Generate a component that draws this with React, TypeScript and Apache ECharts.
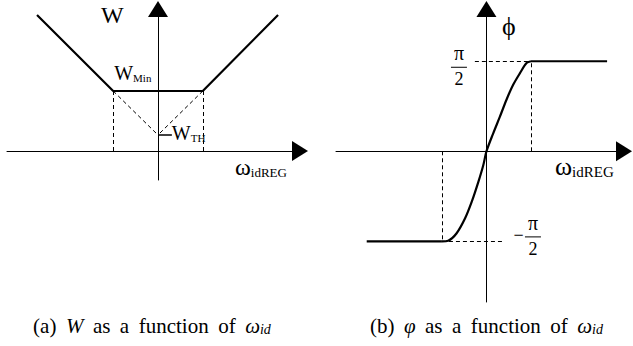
import React, { useEffect, useRef } from 'react';
import * as echarts from 'echarts';

const SERIF = "'Liberation Serif', 'Times New Roman', serif";

// ---------- Panel (a): W as a function of omega ----------
const wOmega = [-2.7, -1, 1, 2.68];
const wValues = [6.8, 3.0, 3.0, 6.8];
const wKnee = 1;
const wMin = 3.0;
const wTh = 0.8;
const wThTickEnd = 0.31;
const wAxisX = [-3.37, 3.17];
const wAxisY = [-1.45, 7.1];

// ---------- Panel (b): phi as a function of omega ----------
const phiMax = 1.5708;
const phiKnee = 1;
const phiLowOmega = [-2.69, -1];
const phiLowValues = [-1.5708, -1.5708];
const phiHighOmega = [1, 2.71];
const phiHighValues = [1.5708, 1.5708];
const phiCurveOmega = [-1, -0.86, -0.67, -0.48, -0.33, -0.18, -0.07, 0, 0.15, 0.3, 0.45, 0.6, 0.75, 0.9, 1];
const phiCurveValues = [-1.5708, -1.56, -1.43, -1.17, -0.88, -0.53, -0.24, 0, 0.31, 0.6, 0.9, 1.16, 1.36, 1.54, 1.5708];
const phiDashUpperStart = -0.26;
const phiDashLowerEnd = 0.35;
const phiAxisX = [-3.38, 3.09];
const phiAxisY = [-2.63, 2.483];

// ---------- Texts ----------
const labelW = 'W';
const subMin = 'Min';
const subTH = 'TH';
const omegaSym = 'ω';
const subIdReg = 'idREG';
const phiSym = 'ϕ';
const piSym = 'π';
const twoSym = '2';
const minusSym = '−';
const SP = 9.5;
const captionA = [
  { t: '(a)' },
  { t: ' ', width: SP },
  { t: 'W', italic: true },
  { t: ' ', width: SP },
  { t: 'as' },
  { t: ' ', width: SP },
  { t: 'a' },
  { t: ' ', width: SP },
  { t: 'function' },
  { t: ' ', width: SP },
  { t: 'of' },
  { t: ' ', width: SP },
  { t: 'ω', italic: true },
  { t: 'id', italic: true, sub: true, size: 14, drop: 3 },
];
const captionB = [
  { t: '(b)' },
  { t: ' ', width: SP },
  { t: 'φ', italic: true },
  { t: ' ', width: SP },
  { t: 'as' },
  { t: ' ', width: SP },
  { t: 'a' },
  { t: ' ', width: SP },
  { t: 'function' },
  { t: ' ', width: SP },
  { t: 'of' },
  { t: ' ', width: SP },
  { t: 'ω', italic: true },
  { t: 'id', italic: true, sub: true, size: 14, drop: 3 },
];

const C = 0.34; // central baseline offset (em)

type Tok = { t: string; italic?: boolean; sub?: boolean; size?: number; drop?: number; width?: number };

function richText(x: number, baseline: number, F: number, toks: Tok[], align = 'left') {
  const rich: any = {};
  toks.forEach((tk, i) => {
    const fs = tk.size ?? F;
    const st: any = {
      fontSize: fs,
      fontFamily: SERIF,
      fontStyle: tk.italic ? 'italic' : 'normal',
      fill: '#000',
    };
    if (tk.width != null) st.width = tk.width;
    if (tk.sub) {
      st.lineHeight = F - 2 * C * (F - fs) - 2 * (tk.drop ?? 0);
      st.verticalAlign = 'bottom';
    } else {
      st.lineHeight = F;
      st.verticalAlign = 'middle';
    }
    rich['t' + i] = st;
  });
  const text = toks.map((tk, i) => `{t${i}|${tk.t}}`).join('');
  return {
    type: 'text',
    x,
    y: baseline - C * F,
    silent: true,
    style: {
      text,
      rich,
      fontSize: F,
      fontFamily: SERIF,
      fill: '#000',
      align,
      textAlign: align,
      verticalAlign: 'middle',
      textVerticalAlign: 'middle',
    },
  };
}

function hLine(x1: number, x2: number, y: number, w = 1) {
  return {
    type: 'line',
    silent: true,
    shape: { x1, y1: y, x2, y2: y },
    style: { stroke: '#000', lineWidth: w },
  };
}

function axis(gridIndex: number, range: number[]) {
  return {
    type: 'value',
    gridIndex,
    min: range[0],
    max: range[1],
    axisLine: {
      show: true,
      onZero: true,
      symbol: ['none', 'triangle'],
      symbolSize: [20, 16],
      lineStyle: { color: '#000', width: 1 },
    },
    axisTick: { show: false },
    axisLabel: { show: false },
    splitLine: { show: false },
  };
}

const dashStyle = { type: [4, 3], color: '#000', width: 1 };
const zip = (xs: number[], ys: number[]) => xs.map((x, i) => [x, ys[i]]);
const mainLine = { color: '#000', width: 2.2 };

const option: any = {
  animation: false,
  backgroundColor: '#fff',
  grid: [
    { left: 7, top: 9, width: 293, height: 171 },
    { left: 336, top: 9, width: 288, height: 293 },
  ],
  xAxis: [axis(0, wAxisX), axis(1, phiAxisX)],
  yAxis: [axis(0, wAxisY), axis(1, phiAxisY)],
  series: [
    {
      type: 'line',
      xAxisIndex: 0,
      yAxisIndex: 0,
      data: zip(wOmega, wValues),
      symbol: 'none',
      silent: true,
      lineStyle: mainLine,
      markLine: {
        silent: true,
        symbol: ['none', 'none'],
        label: { show: false },
        lineStyle: dashStyle,
        emphasis: { disabled: true },
        data: [
          [{ coord: [-wKnee, 0] }, { coord: [-wKnee, wMin] }],
          [{ coord: [wKnee, 0] }, { coord: [wKnee, wMin] }],
          [{ coord: [-wKnee, wMin] }, { coord: [0, wTh] }],
          [{ coord: [wKnee, wMin] }, { coord: [0, wTh] }],
        ],
      },
    },
    {
      type: 'line',
      xAxisIndex: 0,
      yAxisIndex: 0,
      data: [[0, wTh], [wThTickEnd, wTh]],
      symbol: 'none',
      silent: true,
      lineStyle: { color: '#000', width: 1.5 },
    },
    {
      type: 'line',
      xAxisIndex: 1,
      yAxisIndex: 1,
      data: zip(phiLowOmega, phiLowValues),
      symbol: 'none',
      silent: true,
      lineStyle: mainLine,
    },
    {
      type: 'line',
      xAxisIndex: 1,
      yAxisIndex: 1,
      data: zip(phiHighOmega, phiHighValues),
      symbol: 'none',
      silent: true,
      lineStyle: mainLine,
    },
    {
      type: 'line',
      xAxisIndex: 1,
      yAxisIndex: 1,
      data: zip(phiCurveOmega, phiCurveValues),
      symbol: 'none',
      smooth: 0.3,
      silent: true,
      lineStyle: mainLine,
      markLine: {
        silent: true,
        symbol: ['none', 'none'],
        label: { show: false },
        lineStyle: dashStyle,
        emphasis: { disabled: true },
        data: [
          [{ coord: [phiKnee, 0] }, { coord: [phiKnee, phiMax] }],
          [{ coord: [phiDashUpperStart, phiMax] }, { coord: [phiKnee, phiMax] }],
          [{ coord: [-phiKnee, 0] }, { coord: [-phiKnee, -phiMax] }],
          [{ coord: [-phiKnee, -phiMax] }, { coord: [phiDashLowerEnd, -phiMax] }],
        ],
      },
    },
  ],
};

function fraction(cx: number, lineY: number, out: any[]) {
  out.push(hLine(cx - 8, cx + 8, lineY, 1));
  out.push(richText(cx, lineY - 7.5, 20, [{ t: piSym }], 'center'));
  out.push(richText(cx, lineY + 18, 18, [{ t: twoSym }], 'center'));
}

export default function App() {
  const ref = useRef<HTMLDivElement>(null);
  useEffect(() => {
    document.body.style.margin = '0';
    const chart = echarts.init(ref.current as HTMLDivElement, null, { renderer: 'svg', width: 633, height: 346 });
    chart.setOption(option);
    const pA = (x: number, y: number) => chart.convertToPixel({ gridIndex: 0 } as any, [x, y]) as number[];
    const pB = (x: number, y: number) => chart.convertToPixel({ gridIndex: 1 } as any, [x, y]) as number[];
    const g: any[] = [];

    // Panel (a) labels
    const aTop = pA(0, wAxisY[1]);
    g.push(richText(aTop[0] - 57, aTop[1] + 14.3, 24, [{ t: labelW }]));
    const aKnee = pA(-wKnee, wMin);
    g.push(richText(aKnee[0] + 1, aKnee[1] - 11, 20, [{ t: labelW }, { t: subMin, sub: true, size: 11 }]));
    const aTh = pA(wThTickEnd, wTh);
    g.push(richText(aTh[0], aTh[1] + 5, 20, [{ t: labelW }, { t: subTH, sub: true, size: 11 }]));
    const aEnd = pA(wAxisX[1], 0);
    g.push(richText(aEnd[0] - 65, aEnd[1] + 24, 24, [{ t: omegaSym }, { t: subIdReg, sub: true, size: 13, drop: 1 }]));

    // Panel (b) labels
    const bTop = pB(0, phiAxisY[1]);
    g.push(richText(bTop[0] + 15.5, bTop[1] + 26, 26, [{ t: phiSym }]));
    const bEnd = pB(phiAxisX[1], 0);
    g.push(richText(bEnd[0] - 69, bEnd[1] + 24.5, 26, [{ t: omegaSym }, { t: subIdReg, sub: true, size: 15, drop: 1 }]));
    const bHi = pB(0, phiMax);
    fraction(bHi[0] - 27.5, bHi[1] + 6, g);
    const bLo = pB(0, -phiMax);
    fraction(bLo[0] + 46.5, bLo[1] - 4.4, g);
    g.push(richText(bLo[0] + 32, bLo[1] - 4.4 + 4.3, 18, [{ t: minusSym }], 'center'));

    // Captions
    const oA = pA(0, 0);
    const oB = pB(0, 0);
    g.push(richText(oA[0] - 6, 333.5, 21, captionA, 'center'));
    g.push(richText(oB[0], 333.5, 21, captionB, 'center'));

    chart.setOption({ graphic: g });
    return () => chart.dispose();
  }, []);
  return <div ref={ref} style={{ position: 'absolute', left: 0, top: 0, width: 633, height: 346 }} />;
}
